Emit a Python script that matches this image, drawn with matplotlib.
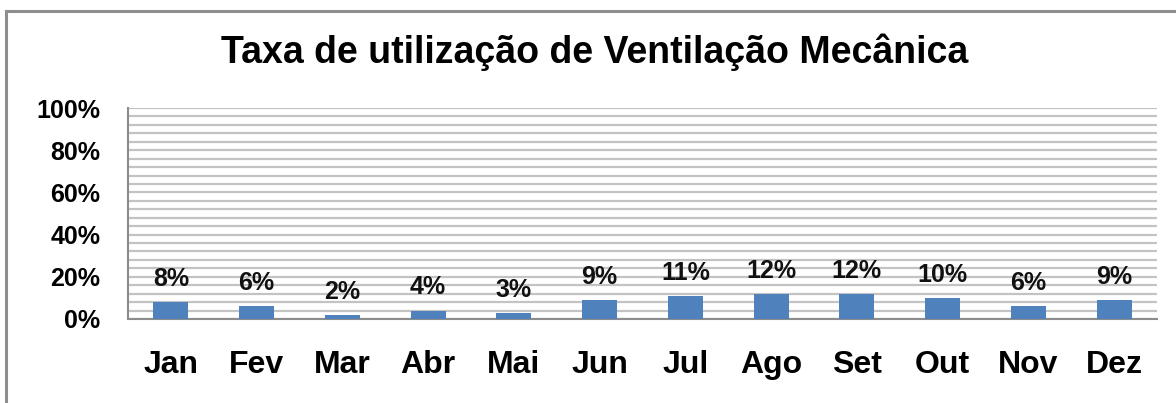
"""Monthly mechanical ventilation usage rate as a bar chart."""

import matplotlib

matplotlib.use("Agg")
import matplotlib.pyplot as plt
from matplotlib.patches import Rectangle
from matplotlib.ticker import MultipleLocator, PercentFormatter

months = ["Jan", "Fev", "Mar", "Abr", "Mai", "Jun",
          "Jul", "Ago", "Set", "Out", "Nov", "Dez"]
rates = [8, 6, 2, 4, 3, 9, 11, 12, 12, 10, 6, 9]

BAR_COLOR = "#4F81BD"
GRID_COLOR = "#c3c3c3"
FONT = "Liberation Sans"

W, H = 1176, 403
fig = plt.figure(figsize=(W / 100, H / 100), dpi=100)
ax = fig.add_axes([128 / W, 1 - 319 / H, (1157 - 128) / W, (319 - 108) / H])

x = range(len(months))
bars = ax.bar(x, rates, width=0.41, color=BAR_COLOR, zorder=3)
for b, v in zip(bars, rates):
    ax.annotate(f"{v}%", (b.get_x() + b.get_width() / 2, v),
                xytext=(0, 8), textcoords="offset points",
                ha="center", va="bottom", fontsize=18,
                fontfamily=FONT, fontweight="bold", color="#111111")

ax.set_xlim(-0.5, len(months) - 0.5)
ax.set_ylim(0, 100)
ax.yaxis.set_major_locator(MultipleLocator(20))
ax.yaxis.set_minor_locator(MultipleLocator(4))
ax.yaxis.set_major_formatter(PercentFormatter(decimals=0))
ax.grid(axis="y", which="both", color=GRID_COLOR, linewidth=1.6, zorder=0)

ax.set_xticks(list(x))
ax.set_xticklabels(months)
ax.tick_params(axis="both", which="both", length=0)
ax.tick_params(axis="x", pad=22)
ax.tick_params(axis="y", pad=20)
for lbl in ax.get_xticklabels():
    lbl.set_fontfamily(FONT)
    lbl.set_fontweight("bold")
    lbl.set_fontsize(23)
for lbl in ax.get_yticklabels():
    lbl.set_fontfamily(FONT)
    lbl.set_fontweight("bold")
    lbl.set_fontsize(18)

for side in ("top", "right"):
    ax.spines[side].set_visible(False)
for side in ("left", "bottom"):
    ax.spines[side].set_color("#8c8c8c")
    ax.spines[side].set_linewidth(1.5)

fig.text(595 / W, 1 - 52 / H, "Taxa de utilização de Ventilação Mecânica",
         ha="center", va="center", fontsize=27, fontfamily=FONT,
         fontweight="bold")

# outer chart frame
fig.patches.append(Rectangle((6 / W, -0.1), 1.2, 1 - 11 / H + 0.1,
                             transform=fig.transFigure, fill=False,
                             edgecolor="#8e8e8e", linewidth=2.2))

fig.savefig("out.png", dpi=100)
